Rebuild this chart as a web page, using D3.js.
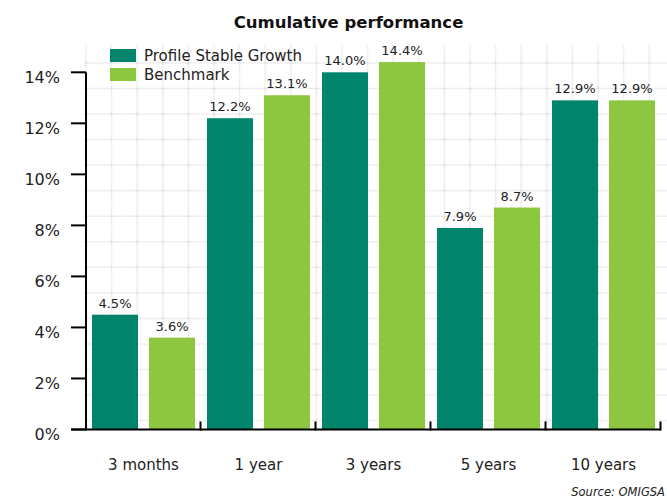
<!DOCTYPE html>
<html>
<head>
<meta charset="utf-8">
<script src="https://cdn.jsdelivr.net/npm/d3@7"></script>
<style>
  html, body { margin: 0; padding: 0; background: #fff; }
  svg { display: block; font-family: "DejaVu Sans", Verdana, sans-serif; }
</style>
</head>
<body>
<svg id="chart" width="667" height="498"></svg>
<script>
const categories = ["3 months", "1 year", "3 years", "5 years", "10 years"];
const seriesNames = ["Profile Stable Growth", "Benchmark"];
const fundValues = [4.5, 12.2, 14.0, 7.9, 12.9];
const benchmarkValues = [3.6, 13.1, 14.4, 8.7, 12.9];
const yTicks = [0, 2, 4, 6, 8, 10, 12, 14];
const colors = ["#00846c", "#8dc63f"];

(function () {
const svg = d3.select("#chart");
const mLeft = 86, mRight = 661, mTop = 72.3, mBottom = 429.5;

const x = d3.scaleBand().domain(categories).range([mLeft, mRight]).paddingInner(0).paddingOuter(0);
const x1 = d3.scaleBand().domain(seriesNames).range([0, x.bandwidth()]).paddingInner(0.193).paddingOuter(0.105);
const y = d3.scaleLinear().domain([0, 14]).range([mBottom, mTop]);

// background graph-paper grid
const grid = svg.append("g");
const gx = d3.range(0, 23).map(k => 86 + 25.6 * k);
const gy = d3.range(0, 15).map(k => 63 + 25.54 * k);
grid.selectAll("line.v").data(gx).join("line")
  .attr("x1", d => d).attr("x2", d => d).attr("y1", 45).attr("y2", 430)
  .attr("stroke", "#efefef").attr("stroke-width", 1.5);
grid.selectAll("line.h").data(gy).join("line")
  .attr("x1", 86).attr("x2", 667).attr("y1", d => d).attr("y2", d => d)
  .attr("stroke", "#efefef").attr("stroke-width", 1.5);
const crosses = [];
gx.forEach(a => gy.forEach(b => crosses.push([a, b])));
grid.selectAll("path.c").data(crosses).join("path")
  .attr("d", d => `M${d[0]-2},${d[1]}H${d[0]+2}M${d[0]},${d[1]-2}V${d[1]+2}`)
  .attr("stroke", "#e2e2e2").attr("stroke-width", 1);

// bars
const data = categories.map((c, i) => ({ cat: c, vals: [fundValues[i], benchmarkValues[i]] }));
const groups = svg.append("g").selectAll("g").data(data).join("g")
  .attr("transform", d => `translate(${x(d.cat)},0)`);
groups.selectAll("rect").data(d => d.vals.map((v, j) => ({ s: seriesNames[j], v, j })))
  .join("rect")
  .attr("x", d => x1(d.s)).attr("width", x1.bandwidth())
  .attr("y", d => y(d.v)).attr("height", d => y(0) - y(d.v))
  .attr("fill", d => colors[d.j]);
groups.selectAll("text").data(d => d.vals.map((v, j) => ({ s: seriesNames[j], v, j })))
  .join("text")
  .attr("x", d => x1(d.s) + x1.bandwidth() / 2)
  .attr("y", d => y(d.v) - 7)
  .attr("text-anchor", "middle").attr("font-size", 13).attr("fill", "#222")
  .text(d => d.v.toFixed(1) + "%");

// y axis
const ya = svg.append("g");
ya.append("line").attr("x1", mLeft).attr("x2", mLeft).attr("y1", y(14)).attr("y2", mBottom + 1)
  .attr("stroke", "#000").attr("stroke-width", 2);
ya.selectAll("line.t").data(yTicks).join("line")
  .attr("x1", 71).attr("x2", mLeft).attr("y1", d => y(d)).attr("y2", d => y(d))
  .attr("stroke", "#000").attr("stroke-width", 2);
ya.selectAll("text").data(yTicks).join("text")
  .attr("x", 60).attr("y", d => y(d) + 10.5)
  .attr("text-anchor", "end").attr("font-size", 16).attr("fill", "#222")
  .text(d => d + "%");

// x axis
const xa = svg.append("g");
xa.append("line").attr("x1", 71).attr("x2", mRight).attr("y1", mBottom).attr("y2", mBottom)
  .attr("stroke", "#000").attr("stroke-width", 2);
const bounds = categories.map(c => x(c) + x.bandwidth());
xa.selectAll("line.t").data(bounds).join("line")
  .attr("x1", d => d - 0.5).attr("x2", d => d - 0.5).attr("y1", mBottom - 8).attr("y2", mBottom + 1)
  .attr("stroke", "#000").attr("stroke-width", 2);
xa.selectAll("text").data(categories).join("text")
  .attr("x", d => x(d) + x.bandwidth() / 2).attr("y", 470)
  .attr("text-anchor", "middle").attr("font-size", 15).attr("fill", "#222")
  .text(d => d);

// title
svg.append("text").attr("x", 348.5).attr("y", 28).attr("text-anchor", "middle")
  .attr("font-size", 16.5).attr("font-weight", "bold").attr("fill", "#111")
  .text("Cumulative performance");

// legend
const lg = svg.append("g").selectAll("g").data(seriesNames).join("g")
  .attr("transform", (d, i) => `translate(110,${49 + i * 19})`);
lg.append("rect").attr("width", 26).attr("height", 13).attr("fill", (d, i) => colors[i]);
lg.append("text").attr("x", 34).attr("y", 12).attr("font-size", 15).attr("fill", "#222").text(d => d);

// source
svg.append("text").attr("x", 665).attr("y", 496).attr("text-anchor", "end")
  .attr("font-size", 11.5).attr("font-style", "italic").attr("fill", "#222")
  .text("Source: OMIGSA");
})();
</script>
</body>
</html>
